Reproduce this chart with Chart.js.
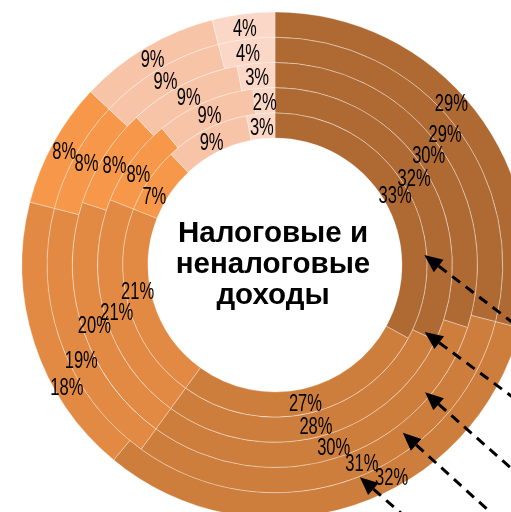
<!DOCTYPE html>
<html>
<head>
<meta charset="utf-8">
<script src="https://cdn.jsdelivr.net/npm/chart.js@4.4.1/dist/chart.umd.min.js"></script>
<style>
  html, body { margin: 0; padding: 0; background: #fff; overflow: hidden; }
  #wrap { position: absolute; left: 0; top: 0; width: 550px; height: 530px; }
</style>
</head>
<body>
<div id="wrap"><canvas id="donut" width="550" height="530"></canvas></div>
<script>
// categories (not shown on the picture), rings go from inner to outer
const categories = ['Категория 1', 'Категория 2', 'Категория 3', 'Категория 4', 'Категория 5', 'Категория 6'];
const ringNames = ['Кольцо 1', 'Кольцо 2', 'Кольцо 3', 'Кольцо 4', 'Кольцо 5'];
const ring1 = [33, 27, 21, 7, 9, 3];
const ring2 = [32, 28, 21, 8, 9, 2];
const ring3 = [30, 30, 20, 8, 9, 3];
const ring4 = [29, 31, 19, 8, 9, 4];
const ring5 = [29, 32, 18, 8, 9, 4];
const centerTitle = ['Налоговые и', 'неналоговые', 'доходы'];

const colors = ['#AF6A33', '#CD7E3C', '#E28A43', '#F69749', '#F8C4A8', '#FAD7C6'];
const rings = [ring1, ring2, ring3, ring4, ring5];

// chart.js puts dataset 0 on the outside, so reverse
const datasets = rings.map((r, i) => ({
  label: ringNames[i],
  data: r,
  backgroundColor: colors,
  borderColor: 'rgba(255,255,255,0.45)',
  borderWidth: 0.7
})).reverse();

// label nudges in degrees, keyed "dataset-index" (dataset 0 = outer ring)
const labelTurn = { '0-0': -5, '0-1': -11, '0-2': -12, '1-1': -4, '1-2': -6, '4-2': 6, '4-3': -4, '3-3': -2 };

// arrows pointing at the rings (ring index from inside, angle from top, place inside ring, slope angle)
const arrows = [
  { ring: 0, angle: 86.2, frac: 0.9, dir: 37.4 },
  { ring: 1, angle: 114.1, frac: 0.47, dir: 36.5 },
  { ring: 2, angle: 130.3, frac: 0.77, dir: 41.4 },
  { ring: 3, angle: 142.7, frac: 0.33, dir: 42.2 },
  { ring: 4, angle: 158.2, frac: 0.03, dir: 41.2 }
];

const labelsPlugin = {
  id: 'labels',
  afterDatasetsDraw(chart) {
    const ctx = chart.ctx;
    const a0 = chart.getDatasetMeta(0).data[0];
    const cx = a0.x, cy = a0.y;
    ctx.save();
    ctx.fillStyle = '#000';
    ctx.textAlign = 'center';
    ctx.textBaseline = 'middle';
    ctx.font = '23px "Liberation Sans", Arial, sans-serif';
    chart.data.datasets.forEach((ds, di) => {
      const meta = chart.getDatasetMeta(di);
      meta.data.forEach((arc, i) => {
        const mid = (arc.startAngle + arc.endAngle) / 2 + (labelTurn[di + '-' + i] || 0) * Math.PI / 180;
        const r = (arc.innerRadius + arc.outerRadius) / 2;
        const x = cx + r * Math.cos(mid);
        const y = cy + r * Math.sin(mid) + 3;
        ctx.save();
        ctx.translate(x, y);
        ctx.scale(0.72, 1);
        ctx.fillText(ds.data[i] + '%', 0, 0);
        ctx.restore();
      });
    });

    // center title
    ctx.font = 'bold 29.5px "Liberation Sans", Arial, sans-serif';
    ctx.textBaseline = 'alphabetic';
    const lh = 31;
    centerTitle.forEach((t, i) => {
      ctx.fillText(t, cx - 2, cy - 23 + i * lh);
    });

    // arrows
    const inner = chart.getDatasetMeta(chart.data.datasets.length - 1).data[0];
    const r0 = inner.innerRadius;
    const w = inner.outerRadius - inner.innerRadius;
    ctx.strokeStyle = '#000';
    ctx.lineWidth = 3;
    arrows.forEach(a => {
      const r = r0 + (a.ring + a.frac) * w;
      const ang = a.angle * Math.PI / 180;
      const tx = cx + r * Math.sin(ang);
      const ty = cy - r * Math.cos(ang);
      const d = a.dir * Math.PI / 180;
      const ux = Math.cos(d), uy = Math.sin(d);
      const headLen = 18, headW = 8;
      const bx = tx + ux * headLen, by = ty + uy * headLen;
      ctx.beginPath();
      ctx.moveTo(tx, ty);
      ctx.lineTo(bx - uy * headW, by + ux * headW);
      ctx.lineTo(bx + uy * headW, by - ux * headW);
      ctx.closePath();
      ctx.fill();
      ctx.setLineDash([10, 7]);
      ctx.beginPath();
      ctx.moveTo(bx, by);
      ctx.lineTo(bx + ux * 300, by + uy * 300);
      ctx.stroke();
      ctx.setLineDash([]);
    });
    ctx.restore();
  }
};

new Chart(document.getElementById('donut'), {
  type: 'doughnut',
  data: {
    labels: categories,
    datasets: datasets
  },
  options: {
    responsive: false,
    animation: false,
    events: [],
    radius: 253,
    cutout: '50.2%',
    plugins: {
      legend: { display: false },
      tooltip: { enabled: false },
      title: { display: false }
    }
  },
  plugins: [labelsPlugin]
});
</script>
</body>
</html>
